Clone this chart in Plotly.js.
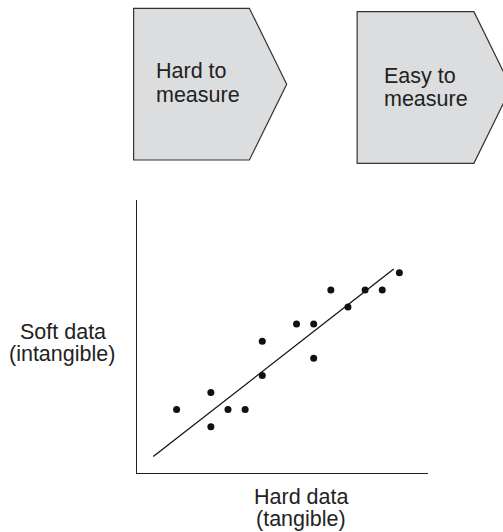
<!DOCTYPE html>
<html>
<head>
<meta charset="utf-8">
<script src="https://cdn.plot.ly/plotly-3.0.1.min.js"></script>
<style>html,body{margin:0;padding:0;background:#fff;}#chart{width:503px;height:532px;}</style>
</head>
<body>
<div id="chart"></div>
<script>
// Data (arbitrary units)
const hardData = [1, 3, 3, 4, 5, 6, 6, 8, 9, 9, 10, 11, 12, 13, 14];
const softData = [2, 3, 1, 2, 2, 6, 4, 7, 7, 5, 9, 8, 9, 9, 10];
const fitLineX = [-0.36, 13.67];
const fitLineY = [-0.75, 10.22];
const xAxisLabel = ["Hard data", "(tangible)"];
const yAxisLabel = ["Soft data", "(intangible)"];
const boxLabels = [["Hard to", "measure"], ["Easy to", "measure"]];

const W = 503, H = 532;
const L = 136.7, R = 428.3, T = 200, B = 473;
const px = x => (x - L) / (R - L);
const py = y => (B - y) / (B - T);
const FONT = "Liberation Sans, Arial, sans-serif";
const TXT = "#222";

function pentagon(x0, y0, x1, xt, y1) {
  const ym = (y0 + y1) / 2;
  return `M${px(x0)},${py(y0)} L${px(x1)},${py(y0)} L${px(xt)},${py(ym)} L${px(x1)},${py(y1)} L${px(x0)},${py(y1)} Z`;
}

const shapes = [
  {type: "path", xref: "paper", yref: "paper", path: pentagon(133.3, 8.3, 249.3, 286.7, 160),
   fillcolor: "#dcdddf", line: {color: "#333", width: 1.2}, layer: "above"},
  {type: "path", xref: "paper", yref: "paper", path: pentagon(357.3, 11.7, 474.3, 511.7, 163.3),
   fillcolor: "#dcdddf", line: {color: "#333", width: 1.2}, layer: "above"}
];

function ann(text, x, y, xanchor) {
  return {text: text, xref: "paper", yref: "paper", x: px(x), y: py(y), xanchor: xanchor, yanchor: "middle",
    showarrow: false, font: {family: FONT, size: 21.5, color: TXT}};
}
const annotations = [
  ann(boxLabels[0][0], 153.5, 71.5, "left"),
  ann(boxLabels[0][1], 153.5, 95, "left"),
  ann(boxLabels[1][0], 382.5, 75.5, "left"),
  ann(boxLabels[1][1], 382.5, 98.5, "left"),
  ann(yAxisLabel[0], 63, 331.5, "center"),
  ann(yAxisLabel[1], 62, 353.5, "center"),
  ann(xAxisLabel[0], 300.7, 497, "center"),
  ann(xAxisLabel[1], 300.7, 519, "center")
];

const traces = [
  {x: fitLineX, y: fitLineY, mode: "lines", line: {color: "#111", width: 1.3}, hoverinfo: "skip", cliponaxis: false},
  {x: hardData, y: softData, mode: "markers", marker: {color: "#111", size: 7}, cliponaxis: false}
];

const layout = {
  width: W, height: H,
  margin: {l: L, r: W - R, t: T, b: H - B, pad: 0},
  paper_bgcolor: "#fff", plot_bgcolor: "#fff",
  showlegend: false,
  xaxis: {range: [-1.31, 15.67], showgrid: false, zeroline: false, showticklabels: false, ticks: "",
    showline: true, linecolor: "#222", linewidth: 1.3, fixedrange: true},
  yaxis: {range: [-1.71, 14.26], showgrid: false, zeroline: false, showticklabels: false, ticks: "",
    showline: true, linecolor: "#222", linewidth: 1.3, fixedrange: true},
  shapes: shapes,
  annotations: annotations
};

Plotly.newPlot("chart", traces, layout, {staticPlot: true, displayModeBar: false});
</script>
</body>
</html>
